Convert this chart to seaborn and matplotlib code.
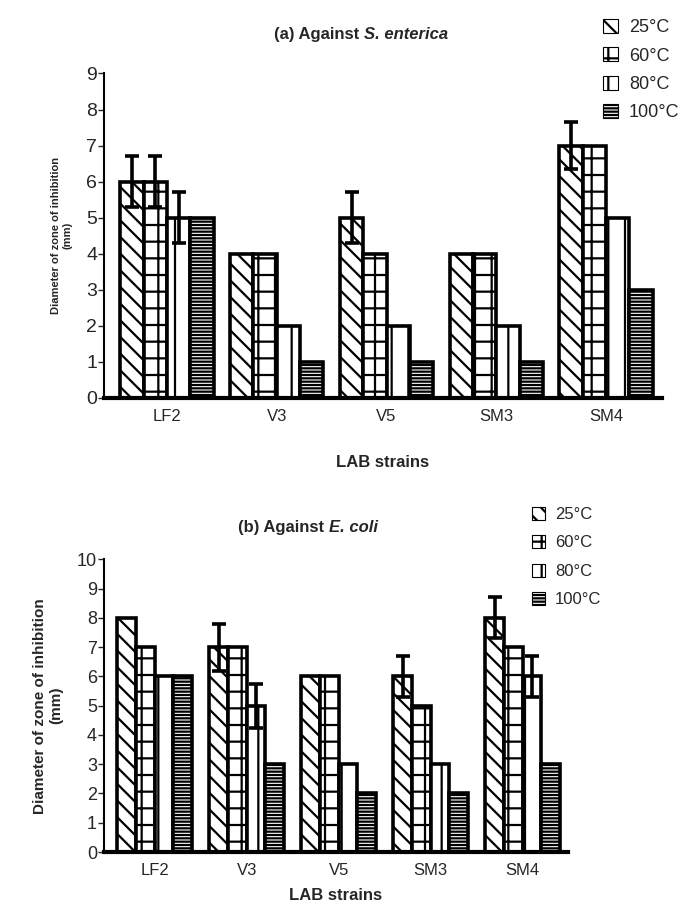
import numpy as np
import pandas as pd
import matplotlib
matplotlib.use("Agg")
import matplotlib.pyplot as plt
import seaborn as sns
from matplotlib.patches import Patch
from matplotlib.offsetbox import TextArea, HPacker, AnchoredOffsetbox

strains = ["LF2", "V3", "V5", "SM3", "SM4"]
temps = ["25°C", "60°C", "80°C", "100°C"]

# (a) Against S. enterica
a_25 = [6, 4, 5, 4, 7]
a_60 = [6, 4, 4, 4, 7]
a_80 = [5, 2, 2, 2, 5]
a_100 = [5, 1, 1, 1, 3]
a_err_25 = [0.7, 0, 0.7, 0, 0.65]
a_err_60 = [0.7, 0, 0, 0, 0]
a_err_80 = [0.7, 0, 0, 0, 0]
a_err_100 = [0, 0, 0, 0, 0]

# (b) Against E. coli
b_25 = [8, 7, 6, 6, 8]
b_60 = [7, 7, 6, 5, 7]
b_80 = [6, 5, 3, 3, 6]
b_100 = [6, 3, 2, 2, 3]
b_err_25 = [0, 0.8, 0, 0.7, 0.7]
b_err_60 = [0, 0, 0, 0, 0]
b_err_80 = [0, 0.75, 0, 0, 0.7]
b_err_100 = [0, 0, 0, 0, 0]

hatches = ["\\\\", "+", "|", "-----"]

sns.set_theme(style="white")
plt.rcParams["font.family"] = ["Liberation Sans", "DejaVu Sans"]
plt.rcParams["hatch.linewidth"] = 1.6


def make_df(vals):
    rows = []
    for t, v in zip(temps, vals):
        for s, x in zip(strains, v):
            rows.append({"strain": s, "temp": t, "value": x})
    return pd.DataFrame(rows)


def draw(ax, vals, errs, width, ymax, tick_fs, xlabelpad):
    df = make_df(vals)
    sns.barplot(data=df, x="strain", y="value", hue="temp", order=strains,
                hue_order=temps, errorbar=None, width=width, ax=ax,
                palette=["white"] * 4, edgecolor="black",
                linewidth=2.6, legend=False)
    bar_conts = list(ax.containers)
    for cont, h, err in zip(bar_conts, hatches, errs):
        for p, e in zip(cont.patches, err):
            p.set_hatch(h)
            p.set_facecolor("white")
            p.set_edgecolor("black")
            if e > 0:
                xc = p.get_x() + p.get_width() / 2
                ax.errorbar(xc, p.get_height(), yerr=e, fmt="none",
                            ecolor="black", elinewidth=2.6, capsize=5,
                            capthick=2.6, zorder=5)
    ax.set_ylim(0, ymax)
    ax.set_yticks(range(0, ymax + 1))
    ax.tick_params(axis="y", labelsize=tick_fs, length=4, width=1,
                   left=True, pad=1)
    ax.tick_params(axis="x", labelsize=12, length=0, pad=8)
    for s in ["top", "right"]:
        ax.spines[s].set_visible(False)
    ax.spines["left"].set_linewidth(1.5)
    ax.spines["bottom"].set_linewidth(3)
    ax.spines["left"].set_color("black")
    ax.spines["bottom"].set_color("black")
    ax.set_xlabel("LAB strains", fontsize=12, fontweight="bold",
                  labelpad=xlabelpad)
    return bar_conts


fig = plt.figure(figsize=(6.82, 9.09), dpi=100)
ax1 = fig.add_axes([0.1525, 0.5622, 0.818, 0.357])
ax2 = fig.add_axes([0.1525, 0.0627, 0.680, 0.322])

c1 = draw(ax1, [a_25, a_60, a_80, a_100],
          [a_err_25, a_err_60, a_err_80, a_err_100], 0.85, 9, 14, 22)
ax1.set_xlim(-0.575, 4.51)
c2 = draw(ax2, [b_25, b_60, b_80, b_100],
          [b_err_25, b_err_60, b_err_80, b_err_100], 0.81, 10, 13, 7)
ax2.set_xlim(-0.55, 4.49)

ax1.set_ylabel("Diameter of zone of inhibition\n(mm)", fontsize=8,
               fontweight="bold", labelpad=10)
ax2.set_ylabel("Diameter of zone of inhibition\n(mm)", fontsize=11,
               fontweight="bold", labelpad=10)

# legends
for anchor, spacing, fs in [((0.996, 0.979), 0.62, 13),
                            ((0.882, 0.4425), 0.8, 12)]:
    handles = [Patch(facecolor="white", edgecolor="black", hatch=h,
                     linewidth=0.8) for h in hatches]
    fig.legend(handles, temps, loc="upper right", bbox_to_anchor=anchor,
               frameon=False, fontsize=fs, handlelength=0.8,
               handleheight=0.8, handletextpad=0.6, labelspacing=spacing,
               borderaxespad=0, borderpad=0)

# titles with italic organism names
for ax, pre, it, xoff, yoff in [(ax1, "(a) Against ", "S. enterica", 0.46, 1.12),
                                (ax2, "(b) Against ", "E. coli", 0.44, 1.11)]:
    box = HPacker(children=[
        TextArea(pre, textprops=dict(fontsize=12, fontweight="bold")),
        TextArea(it, textprops=dict(fontsize=12, fontweight="bold",
                                    style="italic"))], pad=0, sep=0)
    ab = AnchoredOffsetbox(loc="center", child=box, frameon=False,
                           bbox_to_anchor=(xoff, yoff),
                           bbox_transform=ax.transAxes, pad=0)
    ax.add_artist(ab)

fig.savefig("out.png", dpi=100)
